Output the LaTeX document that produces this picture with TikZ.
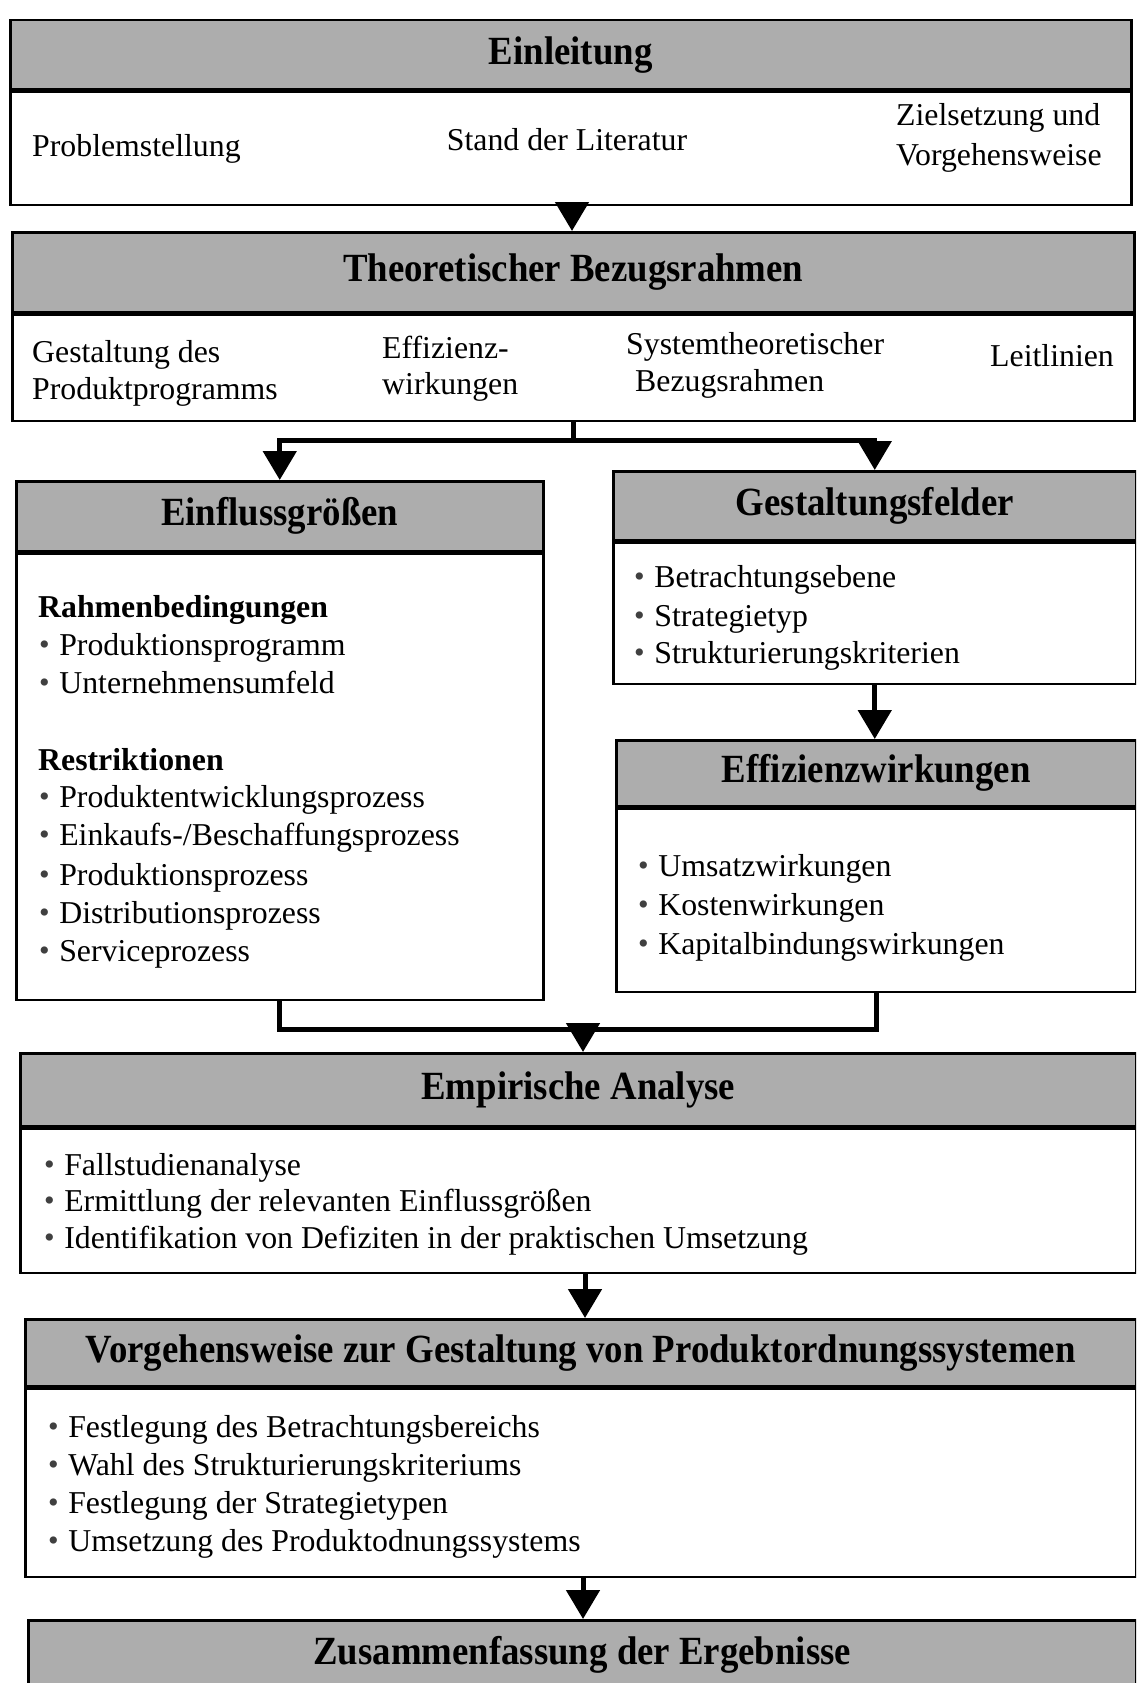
\documentclass[tikz,border=0pt]{standalone}
\usepackage{fontspec}
\setmainfont{Liberation Serif}
\usetikzlibrary{arrows.meta}
\definecolor{hdgray}{gray}{0.68}
\newcommand{\hdt}[1]{\scalebox{0.92}[1]{#1}}
\newcommand{\bu}{\raisebox{0.02em}{\scalebox{0.95}{\color{black!75}\textbullet}}\hspace{0.3em}}
\tikzset{
 hd/.style={draw, line width=2.5pt, fill=hdgray, anchor=north west, inner sep=0pt, font=\fontsize{40}{44}\selectfont\bfseries},
 bd/.style={draw, line width=2.5pt, fill=white, anchor=north west, inner sep=0pt},
 tx/.style={anchor=base west, inner sep=0pt, font=\fontsize{31.8}{37}\selectfont},
 conn/.style={line width=5pt},
 arr/.style={line width=5pt, -{Triangle[width=33pt,length=29pt]}},
}
\begin{document}
\begin{tikzpicture}[x=1pt,y=-1pt]
\useasboundingbox (0,0) rectangle (1136,1683);
\clip (0,0) rectangle (1136,1683);
% Box 1
\node[hd, minimum width=1121pt, minimum height=69pt] (e1h) at (9,19) {\hdt{Einleitung}};
\node[bd, minimum width=1121pt, minimum height=113pt] (e1b) at (e1h.south west) {};
\node[tx] (e1t1) at (32,156) {Problemstellung};
\node[tx, anchor=base] (e1t2) at (567,150) {Stand der Literatur};
\node[tx] (e1t3) at (896,126) {Zielsetzung und};
\node[tx] (e1t4) at (896,165) {Vorgehensweise};
% Box 2
\node[hd, minimum width=1122pt, minimum height=80pt] (t2h) at (11,231) {\hdt{Theoretischer Bezugsrahmen}};
\node[bd, minimum width=1122pt, minimum height=106pt] (t2b) at (t2h.south west) {};
\node[tx] (t2t1) at (32,362) {Gestaltung des};
\node[tx] (t2t2) at (32,399) {Produktprogramms};
\node[tx] (t2t3) at (382,358) {Effizienz-};
\node[tx] (t2t4) at (382,394) {wirkungen};
\node[tx] (t2t5) at (626,354) {Systemtheoretischer};
\node[tx] (t2t6) at (635,391) {Bezugsrahmen};
\node[tx] (t2t7) at (990,366) {Leitlinien};
% Box 3 Einflussgroessen
\node[hd, minimum width=527pt, minimum height=70pt] (einh) at (15,480) {\hdt{Einflussgrößen}};
\node[bd, minimum width=527pt, minimum height=446pt] (einb) at (einh.south west) {};
\node[tx, font=\fontsize{31.8}{37}\selectfont\bfseries] (in1) at (38,617) {Rahmenbedingungen};
\node[tx] (in2) at (39,655) {\bu Produktionsprogramm};
\node[tx] (in3) at (39,693) {\bu Unternehmensumfeld};
\node[tx, font=\fontsize{31.8}{37}\selectfont\bfseries] (in4) at (38,770) {Restriktionen};
\node[tx] (in5) at (39,807) {\bu Produktentwicklungsprozess};
\node[tx] (in6) at (39,845) {\bu Einkaufs-/Beschaffungsprozess};
\node[tx] (in7) at (39,885) {\bu Produktionsprozess};
\node[tx] (in8) at (39,923) {\bu Distributionsprozess};
\node[tx] (in9) at (39,961) {\bu Serviceprozess};
% Box 4 Gestaltungsfelder
\node[hd, minimum width=523pt, minimum height=69pt] (gfh) at (612,470) {\hdt{Gestaltungsfelder}};
\node[bd, minimum width=523pt, minimum height=141pt] (gfb) at (gfh.south west) {};
\node[tx] (gf1) at (634,587) {\bu Betrachtungsebene};
\node[tx] (gf2) at (634,626) {\bu Strategietyp};
\node[tx] (gf3) at (634,663) {\bu Strukturierungskriterien};
% Box 5 Effizienzwirkungen
\node[hd, minimum width=520pt, minimum height=66pt] (efh) at (615,739) {\hdt{Effizienzwirkungen}};
\node[bd, minimum width=520pt, minimum height=183pt] (efb) at (efh.south west) {};
\node[tx] (ef1) at (638,876) {\bu Umsatzwirkungen};
\node[tx] (ef2) at (638,915) {\bu Kostenwirkungen};
\node[tx] (ef3) at (638,954) {\bu Kapitalbindungswirkungen};
% Box 6 Empirische Analyse
\node[hd, minimum width=1116pt, minimum height=73pt] (emh) at (19,1052) {\hdt{Empirische Analyse}};
\node[bd, minimum width=1116pt, minimum height=144pt] (emb) at (emh.south west) {};
\node[tx] (em1) at (44,1175) {\bu Fallstudienanalyse};
\node[tx] (em2) at (44,1211) {\bu Ermittlung der relevanten Einflussgrößen};
\node[tx] (em3) at (44,1248) {\bu Identifikation von Defiziten in der praktischen Umsetzung};
% Box 7 Vorgehensweise
\node[hd, minimum width=1111pt, minimum height=67pt] (vgh) at (24,1318) {\hdt{Vorgehensweise zur Gestaltung von Produktordnungssystemen}};
\node[bd, minimum width=1111pt, minimum height=188pt] (vgb) at (vgh.south west) {};
\node[tx] (vg1) at (48,1437) {\bu Festlegung des Betrachtungsbereichs};
\node[tx] (vg2) at (48,1475) {\bu Wahl des Strukturierungskriteriums};
\node[tx] (vg3) at (48,1513) {\bu Festlegung der Strategietypen};
\node[tx] (vg4) at (48,1551) {\bu Umsetzung des Produktodnungssystems};
% Box 8 Zusammenfassung
\node[hd, minimum width=1108pt, minimum height=70pt] (zuh) at (27,1619) {\hdt{Zusammenfassung der Ergebnisse}};
% connectors
\coordinate (br) at (577,440);
\coordinate (mg) at (583,1029);
\draw[arr] (e1b.south -| 572,0) -- (572,0 |- t2h.north);
\draw[conn] (t2b.south) -- (t2b.south |- br);
\draw[arr] (t2b.south |- br) -| (einh.north);
\draw[arr] (t2b.south |- br) -| (gfh.north);
\draw[arr] (gfb.south) -- (gfb.south |- efh.north);
\draw[conn] (einb.south) |- (mg) -| (efb.south);
\draw[arr] (mg) -- (mg |- emh.north);
\draw[arr] (emb.south -| 585,0) -- (585,0 |- vgh.north);
\draw[arr] (vgb.south -| 583,0) -- (583,0 |- zuh.north);
\end{tikzpicture}
\end{document}
